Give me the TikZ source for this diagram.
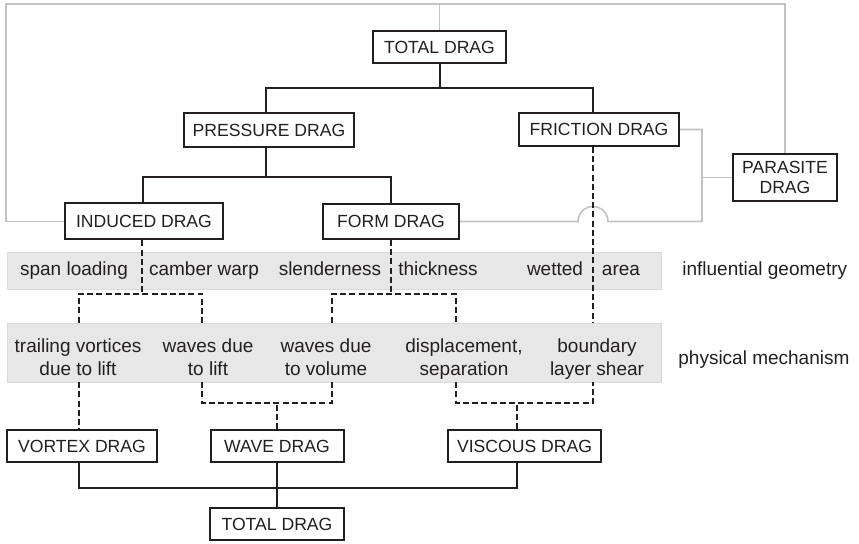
\documentclass[tikz,border=0pt]{standalone}
\usepackage{fontspec}
\setmainfont{Liberation Sans}
\usetikzlibrary{calc}
\definecolor{ink}{HTML}{231F20}
\definecolor{band}{HTML}{E7E7E7}
\definecolor{bandedge}{HTML}{D9D9D9}
\definecolor{link}{HTML}{C2C2C2}
\tikzset{
  box/.style={draw=ink, line width=1pt, fill=white, inner sep=0pt,
    font=\fontsize{8.8}{10}\selectfont, text=ink, align=center},
  tree/.style={draw=ink, line width=1pt},
  hint/.style={draw=ink, line width=0.85pt, dash pattern=on 3pt off 1.6pt},
  relay/.style={draw=link, line width=0.8pt},
  strip/.style={fill=band, draw=bandedge, line width=0.3pt, inner sep=0pt},
  item/.style={font=\fontsize{9.5}{11.5}\selectfont, text=ink, align=center, inner sep=0pt},
}
\begin{document}
\begin{tikzpicture}[x=0.5pt,y=-0.5pt]
\useasboundingbox (0,0) rectangle (859,544);

% grey strips behind the geometry and mechanism rows
\node[strip, minimum width=327pt, minimum height=18.5pt] (geo) at (334,270.5) {};
\node[strip, minimum width=327pt, minimum height=29.5pt] (mech) at (334,352.5) {};

% drag boxes
\node[box, minimum width=66.5pt, minimum height=16pt]   (totaltop) at (439.5,47)  {TOTAL DRAG};
\node[box, minimum width=85pt,   minimum height=17pt]   (pressure) at (269,130)   {PRESSURE DRAG};
\node[box, minimum width=80pt,   minimum height=16.5pt] (friction) at (599,129.5) {FRICTION DRAG};
\node[box, minimum width=79pt,   minimum height=18pt]   (induced)  at (144,221.5) {INDUCED DRAG};
\node[box, minimum width=68pt,   minimum height=17.5pt] (form)     at (391,221.5) {FORM DRAG};
\node[box, minimum width=52pt,   minimum height=23.5pt] (parasite) at (785,177.5) {PARASITE\\DRAG};
\node[box, minimum width=75pt,   minimum height=16pt]   (vortex)   at (82,446)    {VORTEX DRAG};
\node[box, minimum width=66.5pt, minimum height=16pt]   (wave)     at (277,446)   {WAVE DRAG};
\node[box, minimum width=76.5pt, minimum height=16pt]   (viscous)  at (524.5,446) {VISCOUS DRAG};
\node[box, minimum width=67pt,   minimum height=16pt]   (totalbot) at (277,524)   {TOTAL DRAG};

% geometry row
\node[item] (g1) at (74,271.4)  {\strut span loading};
\node[item] (g2) at (204,271.4) {\strut camber warp};
\node[item] (g3) at (330,271.4) {\strut slenderness};
\node[item] (g4) at (438,271.4) {\strut thickness};
\node[item] (g5) at (555,271.4) {\strut wetted};
\node[item] (g6) at (621,271.4) {\strut area};
\node[item, anchor=west] (geolabel) at (682,271.4) {\strut influential geometry};

% mechanism row
\node[item] (m1) at (78,359)  {\strut trailing vortices\\\strut due to lift};
\node[item] (m2) at (208,359) {\strut waves due\\\strut to lift};
\node[item] (m3) at (326,359) {\strut waves due\\\strut to volume};
\node[item] (m4) at (464,359) {\strut displacement,\\\strut separation};
\node[item] (m5) at (597,359) {\strut boundary\\\strut layer shear};
\node[item, anchor=west] (mechlabel) at (678,360.4) {\strut physical mechanism};

% ports and levels
\coordinate (pa) at (79,0);
\coordinate (pb) at (202,0);
\coordinate (pc) at (332,0);
\coordinate (pd) at (456,0);
\coordinate (fport) at ([xshift=-3pt]friction.south);
\coordinate (lv) at (0,294);
\coordinate (hv) at (0,403);
\coordinate (tl) at (6,4);
\coordinate (rail) at (702,178);
\coordinate (hop) at (fport |- form.east);

% solid decomposition tree
\path (totaltop.south) ++(0,24) coordinate (j1);
\draw[tree] (totaltop.south) -- (j1);
\draw[tree] ([xshift=-1.5pt]pressure.north) |- (j1) -| ([xshift=-3pt]friction.north);
\path (pressure.south) ++(0,29) coordinate (j2);
\draw[tree] ([xshift=-1.5pt]pressure.south) -- ([xshift=-1.5pt]j2);
\draw[tree] ([xshift=-0.5pt]induced.north) |- (j2) -| (form.north);
\path (wave.south) ++(0,25) coordinate (j3);
\draw[tree] ([xshift=-1.5pt]vortex.south) |- (j3) -| ([xshift=-3.75pt]viscous.south);
\draw[tree] (wave.south) -- (totalbot.north);

% parasite drag links
\draw[relay] (induced.west) -| (tl) -| (parasite.north);
\draw[relay] (totaltop.north) -- (totaltop.north |- tl);
\draw[relay] (friction.east) -| (rail |- form.east) -- ([xshift=7.5pt]hop)
  arc[start angle=0, end angle=180, radius=7.5pt] -- (form.east);
\draw[relay] (parasite.west) -- (parasite.west -| rail);

% dashed links from drag types to geometry and mechanisms
\draw[hint] ([xshift=-1pt]induced.south) -- ([xshift=-1pt]induced.south |- lv);
\draw[hint] (pa |- mech.north) |- (pb |- lv) -- (pb |- mech.north);
\draw[hint] (form.south) -- (form.south |- lv);
\draw[hint] (pc |- mech.north) |- (pd |- lv) -- (pd |- mech.north);
\draw[hint] (fport) -- (fport |- mech.north);

\draw[hint] (pa |- mech.south) -- ([xshift=-1.5pt]vortex.north);
\draw[hint] (pb |- mech.south) |- (pc |- hv) -- (pc |- mech.south);
\draw[hint] (wave.north) -- (wave.north |- hv);
\draw[hint] (pd |- mech.south) |- (fport |- hv) -- (fport |- mech.south);
\draw[hint] ([xshift=-3.75pt]viscous.north) -- ([xshift=-3.75pt]viscous.north |- hv);
\end{tikzpicture}
\end{document}
